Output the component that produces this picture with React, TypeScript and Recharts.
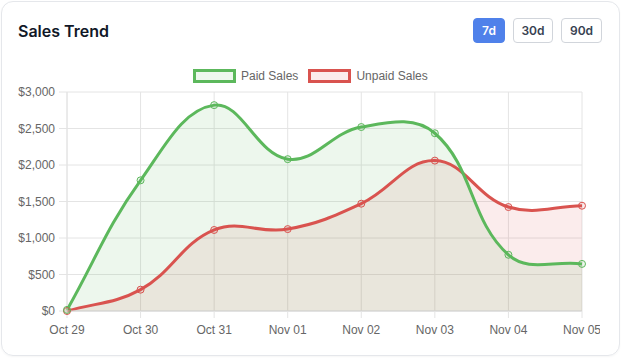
import React from 'react';
import { ComposedChart, Area, Line, XAxis, YAxis, CartesianGrid } from 'recharts';

const dates = ['Oct 29', 'Oct 30', 'Oct 31', 'Nov 01', 'Nov 02', 'Nov 03', 'Nov 04', 'Nov 05'];
const paidSales = [15, 1790, 2820, 2080, 2520, 2435, 770, 645];
const unpaidSales = [0, 292, 1110, 1122, 1470, 2060, 1424, 1442];
const yTicks = [0, 500, 1000, 1500, 2000, 2500, 3000];
const ranges = ['7d', '30d', '90d'];

const data = dates.map((date, i) => ({ date, paid: paidSales[i], unpaid: unpaidSales[i] }));

const GREEN = '#5cb85c';
const RED = '#d9534f';
const GREEN_FILL = 'rgba(92, 184, 92, 0.11)';
const RED_FILL = 'rgba(217, 83, 79, 0.11)';
const GRID = '#e4e4e4';
const LABEL = '#666';
const FONT = '"Liberation Sans", Arial, Helvetica, sans-serif';
const BUTTON_W = [32, 40, 41];

// spline like chart.js (tension 0.4), so the curve can overshoot between points
const splineCurve = (context: any) => {
  let pts: number[][] = [];
  let line = NaN;
  const tension = 0.4;
  return {
    areaStart() { line = 0; },
    areaEnd() { line = NaN; },
    lineStart() { pts = []; },
    point(x: number, y: number) { pts.push([+x, +y]); },
    lineEnd() {
      const n = pts.length;
      if (n) {
        const cps = pts.map((cur, i) => {
          const prev = pts[i - 1] || cur;
          const next = pts[i + 1] || cur;
          const d01 = Math.hypot(cur[0] - prev[0], cur[1] - prev[1]);
          const d12 = Math.hypot(next[0] - cur[0], next[1] - cur[1]);
          let s01 = d01 / (d01 + d12);
          let s12 = d12 / (d01 + d12);
          if (isNaN(s01)) s01 = 0;
          if (isNaN(s12)) s12 = 0;
          const fa = tension * s01;
          const fb = tension * s12;
          return {
            before: [cur[0] - fa * (next[0] - prev[0]), cur[1] - fa * (next[1] - prev[1])],
            after: [cur[0] + fb * (next[0] - prev[0]), cur[1] + fb * (next[1] - prev[1])],
          };
        });
        if (line) context.lineTo(pts[0][0], pts[0][1]);
        else context.moveTo(pts[0][0], pts[0][1]);
        for (let i = 1; i < n; i++) {
          const a = cps[i - 1].after;
          const b = cps[i].before;
          context.bezierCurveTo(a[0], a[1], b[0], b[1], pts[i][0], pts[i][1]);
        }
      }
      if (line || (line !== 0 && n === 1)) context.closePath();
      line = 1 - line;
    },
  };
};

const LegendItem = ({ color, fill, label }: { color: string; fill: string; label: string }) => (
  <div style={{ display: 'flex', alignItems: 'center', marginRight: 10 }}>
    <div style={{ boxSizing: 'border-box', width: 43, height: 14, border: `3px solid ${color}`, background: fill, marginRight: 5 }} />
    <span style={{ fontFamily: FONT, fontSize: 12, color: LABEL }}>{label}</span>
  </div>
);

export default function App() {
  return (
    <div style={{ position: 'fixed', left: 0, top: 0, width: 621, height: 358, background: '#fff', overflow: 'hidden' }}>
      <div
        style={{
          position: 'absolute',
          left: 1,
          top: 1,
          width: 619,
          height: 355,
          boxSizing: 'border-box',
          border: '1px solid #e5e7eb',
          borderRadius: 12,
          boxShadow: '0 1px 2px rgba(0,0,0,0.04)',
        }}
      />
      <div style={{ position: 'absolute', left: 18, top: 21, fontFamily: 'Inter, sans-serif', fontWeight: 600, fontSize: 16, color: '#111827', lineHeight: '20px' }}>
        Sales Trend
      </div>
      <div style={{ position: 'absolute', left: 473, top: 18, display: 'flex', gap: 8 }}>
        {ranges.map((r, i) => (
          <div
            key={r}
            style={{
              boxSizing: 'border-box',
              height: 25,
              width: BUTTON_W[i],
              borderRadius: 4,
              border: i === 0 ? '1px solid #4f81ea' : '1px solid #d1d5db',
              background: i === 0 ? '#4f81ea' : '#fff',
              color: i === 0 ? '#fff' : '#374151',
              fontFamily: 'Inter, sans-serif',
              fontWeight: 600,
              fontSize: 12,
              display: 'flex',
              alignItems: 'center',
              justifyContent: 'center',
            }}
          >
            {r}
          </div>
        ))}
      </div>
      <div style={{ position: 'absolute', left: 193, top: 69, display: 'flex', height: 14 }}>
        <LegendItem color={GREEN} fill={GREEN_FILL} label="Paid Sales" />
        <LegendItem color={RED} fill={RED_FILL} label="Unpaid Sales" />
      </div>
      <div style={{ position: 'absolute', left: 0, top: 84 }}>
        <ComposedChart width={600} height={254} data={data} margin={{ top: 8, right: 18, bottom: 0, left: 0 }}>
          <CartesianGrid stroke={GRID} />
          <XAxis
            dataKey="date"
            scale="point"
            padding={{ left: 0, right: 0 }}
            interval={0}
            height={27}
            tickSize={7}
            tickMargin={7}
            stroke={GRID}
            tickLine={{ stroke: GRID }}
            axisLine={{ stroke: '#d4d4d4' }}
            tick={{ fill: LABEL, fontSize: 12, fontFamily: FONT }}
          />
          <YAxis
            domain={[0, 3000]}
            ticks={yTicks}
            width={67}
            tickSize={8}
            tickMargin={4}
            tickLine={{ stroke: GRID }}
            axisLine={{ stroke: GRID }}
            tick={{ fill: LABEL, fontSize: 12, fontFamily: FONT }}
            tickFormatter={(v: number) => `$${v.toLocaleString('en-US')}`}
          />
          <Area dataKey="unpaid" type={splineCurve as any} stroke="none" fill={RED_FILL} fillOpacity={1} isAnimationActive={false} />
          <Area dataKey="paid" type={splineCurve as any} stroke="none" fill={GREEN_FILL} fillOpacity={1} isAnimationActive={false} />
          <Line
            dataKey="unpaid"
            type={splineCurve as any}
            stroke={RED}
            strokeWidth={3}
            dot={{ r: 3.5, stroke: RED, strokeWidth: 1, fill: RED_FILL }}
            isAnimationActive={false}
          />
          <Line
            dataKey="paid"
            type={splineCurve as any}
            stroke={GREEN}
            strokeWidth={3}
            dot={{ r: 3.5, stroke: GREEN, strokeWidth: 1, fill: GREEN_FILL }}
            isAnimationActive={false}
          />
        </ComposedChart>
      </div>
    </div>
  );
}
